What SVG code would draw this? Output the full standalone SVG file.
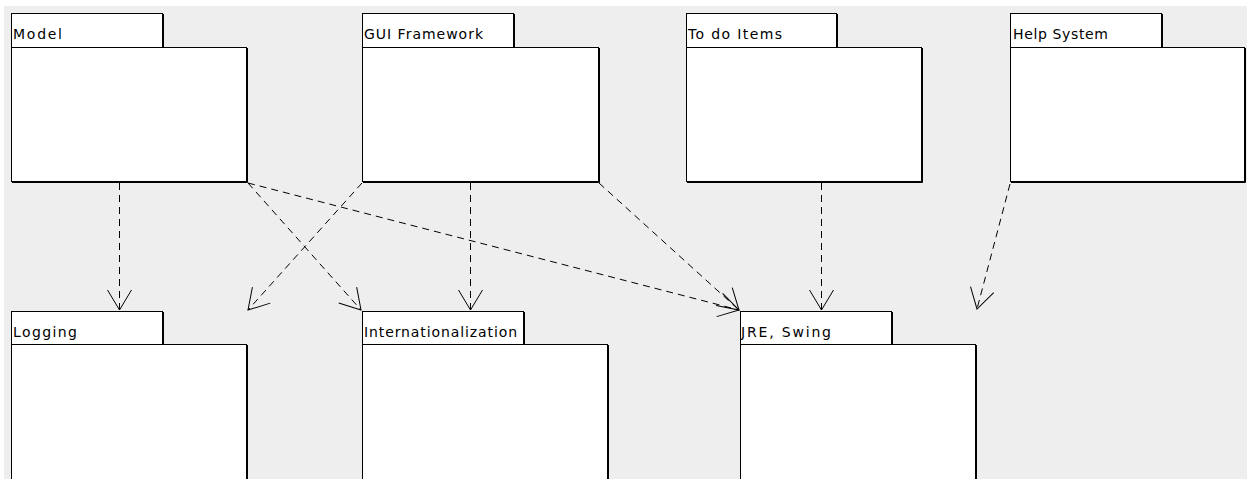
<svg xmlns="http://www.w3.org/2000/svg" width="1247" height="479" viewBox="0 0 1247 479">
<style>
.tab,.body{fill:#fff;stroke:#000;stroke-width:1}
.sh{fill:none;stroke:#000;stroke-width:1}
.lbl{font-family:"DejaVu Sans","Liberation Sans",sans-serif;font-size:14px;fill:#000}
.dep{fill:none;stroke:#000;stroke-width:1;stroke-dasharray:7 5}
</style>
<defs>
<marker id="arr" markerUnits="userSpaceOnUse" markerWidth="30" markerHeight="30" viewBox="-25 -15 30 30" refX="0" refY="0" orient="auto" overflow="visible">
<path d="M-20,-12 L0,0 L-20,12" fill="none" stroke="#000" stroke-width="1"/>
</marker>
</defs>
<rect x="0" y="0" width="1247" height="479" fill="#fff"/>
<rect x="4" y="6" width="1243" height="473" fill="#eeeeee"/>

<g id="connectors">
<path class="dep" d="M119.5,183 L119.5,310" marker-end="url(#arr)"/>
<path class="dep" d="M248,183 L361,310" marker-end="url(#arr)"/>
<path class="dep" d="M248,183 L739,310" marker-end="url(#arr)"/>
<path class="dep" d="M362,183 L248,310" marker-end="url(#arr)"/>
<path class="dep" d="M470.5,183 L470.5,310" marker-end="url(#arr)"/>
<path class="dep" d="M599,183 L739,310" marker-end="url(#arr)"/>
<path class="dep" d="M821.5,183 L821.5,310" marker-end="url(#arr)"/>
<path class="dep" d="M1010,184 L977,309" marker-end="url(#arr)"/>
</g>

<g id="model">
<rect class="tab" x="11.5" y="13.5" width="151" height="34"/>
<rect class="body" x="11.5" y="47.5" width="235" height="134"/>
<path class="sh" d="M163.5,14 V47 M247.5,48 V182.5 H12"/>
<text class="lbl" x="13" y="39" textLength="49" lengthAdjust="spacing">Model</text>
</g>

<g id="gui-framework">
<rect class="tab" x="362.5" y="13.5" width="151" height="34"/>
<rect class="body" x="362.5" y="47.5" width="236" height="134"/>
<path class="sh" d="M514.5,14 V47 M599.5,48 V182.5 H363"/>
<text class="lbl" x="364" y="39" textLength="119" lengthAdjust="spacing">GUI Framework</text>
</g>

<g id="to-do-items">
<rect class="tab" x="686.5" y="13.5" width="150" height="34"/>
<rect class="body" x="686.5" y="47.5" width="235" height="134"/>
<path class="sh" d="M837.5,14 V47 M922.5,48 V182.5 H687"/>
<text class="lbl" x="688" y="39" textLength="94" lengthAdjust="spacing">To do Items</text>
</g>

<g id="help-system">
<rect class="tab" x="1010.5" y="13.5" width="151" height="34"/>
<rect class="body" x="1010.5" y="47.5" width="234" height="134"/>
<path class="sh" d="M1162.5,14 V47 M1245.5,48 V182.5 H1011"/>
<text class="lbl" x="1013" y="39" textLength="95" lengthAdjust="spacing">Help System</text>
</g>

<g id="logging">
<rect class="tab" x="11.5" y="311.5" width="151" height="33"/>
<rect class="body" x="11.5" y="344.5" width="235" height="150"/>
<path class="sh" d="M163.5,312 V344 M247.5,345 V495"/>
<text class="lbl" x="13" y="337" textLength="64" lengthAdjust="spacing">Logging</text>
</g>

<g id="internationalization">
<rect class="tab" x="362.5" y="311.5" width="161" height="33"/>
<rect class="body" x="362.5" y="344.5" width="245" height="150"/>
<path class="sh" d="M524.5,312 V344 M608.5,345 V495"/>
<text class="lbl" x="364" y="337" textLength="153" lengthAdjust="spacing">Internationalization</text>
</g>

<g id="jre-swing">
<rect class="tab" x="740.5" y="311.5" width="151" height="33"/>
<rect class="body" x="740.5" y="344.5" width="235" height="150"/>
<path class="sh" d="M892.5,312 V344 M976.5,345 V495"/>
<text class="lbl" x="741" y="337" textLength="90" lengthAdjust="spacing">JRE, Swing</text>
</g>
</svg>
